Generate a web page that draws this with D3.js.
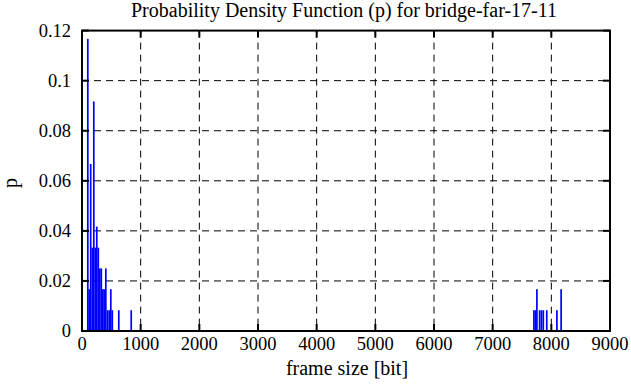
<!DOCTYPE html>
<html>
<head>
<meta charset="utf-8">
<script src="https://cdn.jsdelivr.net/npm/d3@7"></script>
<style>
  body { margin: 0; background: #fff; }
</style>
</head>
<body>
<div id="chartContainer"></div>
<script>
// frame sizes (bit) and their probability
var frameSizes = [99, 123, 148, 176, 201, 227, 252, 278, 303, 329, 355, 379, 406, 435, 464, 491, 517, 627, 839,
                  7703, 7729, 7754, 7800, 7831, 7863, 7922, 8095, 8167];
var probs = [0.1167, 0.0167, 0.0667, 0.0333, 0.0917, 0.0333, 0.0417, 0.0333, 0.025, 0.025, 0.0167, 0.0167, 0.025, 0.0083, 0.0083, 0.0167, 0.0083, 0.0083, 0.0083,
             0.0083, 0.0083, 0.0167, 0.0083, 0.0083, 0.0083, 0.0083, 0.0083, 0.0167];
var xTicks = [0, 1000, 2000, 3000, 4000, 5000, 6000, 7000, 8000, 9000];
var yTicks = [0, 0.02, 0.04, 0.06, 0.08, 0.1, 0.12];
var yTickLabels = ["0", "0.02", "0.04", "0.06", "0.08", "0.1", "0.12"];

var W = 631, H = 387;
var mLeft = 82, mRight = 610, mTop = 30.6, mBottom = 331;
var font = "'Liberation Serif', 'Times New Roman', 'DejaVu Serif', serif";

var svg = d3.select("#chartContainer").append("svg")
  .attr("width", W).attr("height", H)
  .attr("font-family", font);

var x = d3.scaleLinear().domain([0, 9000]).range([mLeft, mRight]);
var y = d3.scaleLinear().domain([0, 0.12]).range([mBottom, mTop]);

// dashed grid
svg.append("g").selectAll("line").data(xTicks.slice(1, -1)).enter().append("line")
  .attr("x1", d => x(d)).attr("x2", d => x(d))
  .attr("y1", mTop).attr("y2", mBottom)
  .attr("stroke", "#000").attr("stroke-width", 1).attr("stroke-dasharray", "7,5");
svg.append("g").selectAll("line").data(yTicks.slice(1, -1)).enter().append("line")
  .attr("x1", mLeft).attr("x2", mRight)
  .attr("y1", d => y(d)).attr("y2", d => y(d))
  .attr("stroke", "#000").attr("stroke-width", 1).attr("stroke-dasharray", "7,5");

// impulses
var pts = frameSizes.map((f, i) => ({f: f, p: probs[i]}));
svg.append("g").selectAll("rect").data(pts).enter().append("rect")
  .attr("x", d => x(d.f) - 0.85)
  .attr("width", 1.7)
  .attr("y", d => y(d.p))
  .attr("height", d => y(0) - y(d.p))
  .attr("fill", "#0000ff");

// tick marks, mirrored on all sides
var tl = 7;
var ticks = svg.append("g").attr("stroke", "#000").attr("stroke-width", 2);
xTicks.forEach(function (t) {
  ticks.append("line").attr("x1", x(t)).attr("x2", x(t)).attr("y1", mBottom).attr("y2", mBottom - tl);
  ticks.append("line").attr("x1", x(t)).attr("x2", x(t)).attr("y1", mTop).attr("y2", mTop + tl);
});
yTicks.forEach(function (t) {
  ticks.append("line").attr("x1", mLeft).attr("x2", mLeft + tl).attr("y1", y(t)).attr("y2", y(t));
  ticks.append("line").attr("x1", mRight).attr("x2", mRight - tl).attr("y1", y(t)).attr("y2", y(t));
});

// border
svg.append("rect").attr("x", mLeft).attr("y", mTop)
  .attr("width", mRight - mLeft).attr("height", mBottom - mTop)
  .attr("fill", "none").attr("stroke", "#000").attr("stroke-width", 2);

// tick labels
svg.append("g").selectAll("text").data(xTicks).enter().append("text")
  .attr("x", d => x(d)).attr("y", 350)
  .attr("text-anchor", "middle").attr("font-size", 18.5)
  .text(d => d);
svg.append("g").selectAll("text").data(yTicks).enter().append("text")
  .attr("x", 71).attr("y", d => y(d) + 6)
  .attr("text-anchor", "end").attr("font-size", 18.5)
  .text((d, i) => yTickLabels[i]);

// titles
svg.append("text").attr("x", 344).attr("y", 17)
  .attr("text-anchor", "middle").attr("font-size", 20)
  .text("Probability Density Function (p) for bridge-far-17-11");
svg.append("text").attr("x", 347).attr("y", 375)
  .attr("text-anchor", "middle").attr("font-size", 20)
  .text("frame size [bit]");
svg.append("text").attr("transform", "translate(17,183) rotate(-90)")
  .attr("text-anchor", "middle").attr("font-size", 20)
  .text("p");
</script>
</body>
</html>
